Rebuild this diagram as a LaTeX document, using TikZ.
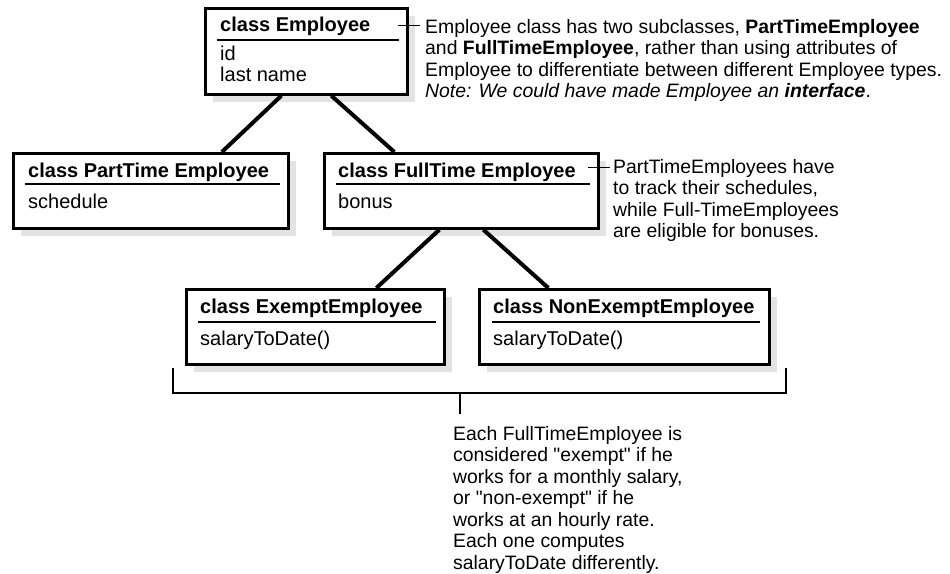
\documentclass[tikz,border=0pt]{standalone}
\usepackage{fontspec}
\setmainfont{Liberation Sans}[Ligatures=TeXOff]
\usetikzlibrary{shadows,calc}
\tikzset{
  cbox/.style={draw=black, line width=2.7pt, fill=white, inner sep=0pt, anchor=north west,
    drop shadow={shadow xshift=8pt, shadow yshift=-8pt, fill=black!11, opacity=1}},
  hd/.style={anchor=base west, inner sep=0pt, font=\bfseries},
  bd/.style={anchor=base west, inner sep=0pt},
  hline/.style={line width=1.4pt},
  conn/.style={line width=4pt},
  noteline/.style={line width=1pt},
  note/.style={anchor=base west, inner sep=0pt, font=\fontsize{19.4pt}{21.5pt}\selectfont},
  brk/.style={line width=1.4pt}
}
\newcommand{\notelines}[1]{\vtop{\baselineskip=21.5pt\lineskiplimit=-10pt #1}}
\begin{document}
\begin{tikzpicture}[x=1pt,y=-1pt]
\fontsize{20pt}{21.5pt}\selectfont
\useasboundingbox (0,0) rectangle (950,573);
% boxes
\node[cbox, minimum width=202pt, minimum height=86pt] (emp) at (204,7) {};
\node[cbox, minimum width=275pt, minimum height=75pt] (pt) at (12,152) {};
\node[cbox, minimum width=274pt, minimum height=75pt] (ft) at (323,152) {};
\node[cbox, minimum width=258pt, minimum height=75pt] (ex) at (185,288) {};
\node[cbox, minimum width=290pt, minimum height=75pt] (nx) at (478,288) {};
% Employee texts
\node[hd] (empH) at (220,31) {class Employee};
\draw[hline] ([xshift=13pt,yshift=-33pt]emp.north west) -- ([xshift=-10pt,yshift=-33pt]emp.north east);
\node[bd] (empA) at (220,60) {id};
\node[bd] (empB) at (220,81) {last name};
% PartTime
\node[hd] (ptH) at (28,177) {class PartTime Employee};
\draw[hline] ([xshift=13pt,yshift=-32pt]pt.north west) -- ([xshift=-10pt,yshift=-32pt]pt.north east);
\node[bd] (ptA) at (28,208) {schedule};
% FullTime
\node[hd] (ftH) at (338,177) {class FullTime Employee};
\draw[hline] ([xshift=13pt,yshift=-32pt]ft.north west) -- ([xshift=-10pt,yshift=-32pt]ft.north east);
\node[bd] (ftA) at (338,208) {bonus};
% Exempt
\node[hd] (exH) at (200,313) {class ExemptEmployee};
\draw[hline] ([xshift=13pt,yshift=-34pt]ex.north west) -- ([xshift=-10pt,yshift=-34pt]ex.north east);
\node[bd] (exA) at (200,345) {salaryToDate()};
% NonExempt
\node[hd] (nxH) at (493,313) {class NonExemptEmployee};
\draw[hline] ([xshift=14pt,yshift=-34pt]nx.north west) -- ([xshift=-11pt,yshift=-34pt]nx.north east);
\node[bd] (nxA) at (493,345) {salaryToDate()};
% inheritance connectors
\draw[conn] ([xshift=-25pt]emp.south) -- ([xshift=71pt]pt.north);
\draw[conn] ([xshift=25pt]emp.south) -- ([xshift=-67pt]ft.north);
\draw[conn] ([xshift=-22pt]ft.south) -- ([xshift=61pt]ex.north);
\draw[conn] ([xshift=22pt]ft.south) -- ([xshift=-76pt]nx.north);
% note 1
\node[note] (n1) at (425,33) {\notelines{%
\hbox{Employee class has two subclasses, \textbf{PartTimeEmployee}}
\hbox{and \textbf{FullTimeEmployee}, rather than using attributes of}
\hbox{Employee to differentiate between different Employee types.}
\hbox{\textit{Note: We could have made Employee an \textbf{interface}}.}}};
\coordinate (n1c) at (420,25);
\draw[noteline] ([xshift=-11pt,yshift=-18pt]emp.north east) -- (n1c);
% note 2
\node[note] (n2) at (613,173) {\notelines{%
\hbox{PartTimeEmployees have}
\hbox{to track their schedules,}
\hbox{while Full-TimeEmployees}
\hbox{are eligible for bonuses.}}};
\coordinate (n2c) at (610,167);
\draw[noteline] ([xshift=-12pt,yshift=-15pt]ft.north east) -- (n2c);
% bracket
\coordinate (bl) at (173,368);
\coordinate (br) at (786,368);
\coordinate (bm) at (460,393);
\coordinate (bt) at (460,414);
\draw[brk] (bl) |- (bm) -| (br);
\draw[brk] (bm) -- (bt);
% note 3
\node[note] (n3) at (453,440) {\notelines{%
\hbox{Each FullTimeEmployee is}
\hbox{considered "exempt" if he}
\hbox{works for a monthly salary,}
\hbox{or "non-exempt" if he}
\hbox{works at an hourly rate.}
\hbox{Each one computes}
\hbox{salaryToDate differently.}}};
\end{tikzpicture}
\end{document}
